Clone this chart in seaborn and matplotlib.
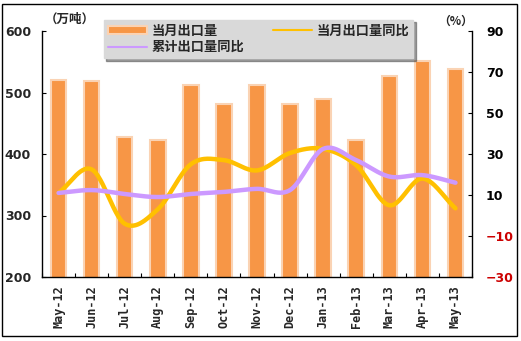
import numpy as np
import pandas as pd
import matplotlib
matplotlib.use("Agg")
import matplotlib.pyplot as plt
from matplotlib.patches import Rectangle, Patch
from matplotlib.lines import Line2D
import seaborn as sns

months = ["May-12", "Jun-12", "Jul-12", "Aug-12", "Sep-12", "Oct-12", "Nov-12",
          "Dec-12", "Jan-13", "Feb-13", "Mar-13", "Apr-13", "May-13"]
monthly_export = [521, 519, 427, 422, 513, 482, 512, 482, 489, 422, 527, 551, 538]
monthly_yoy = [11, 22.5, -4, 3, 25, 27, 22, 30.5, 32.5, 24.5, 5, 18, 3.5]
cumulative_yoy = [11, 12.4, 10.5, 9, 10.5, 11.5, 13, 12.4, 32.5, 27, 19, 19.7, 16]

left_ticks = [200, 300, 400, 500, 600]
right_ticks = [-30, -10, 10, 30, 50, 70, 90]

sns.set_theme(style="white")
plt.rcParams["font.family"] = ["Noto Sans CJK SC", "DejaVu Sans"]

BAR = "#F79646"
BAR_EDGE = "#FAD3B4"
YELLOW = "#FFC000"
PURPLE = "#CC99FF"


def smooth(y, n=30):
    """Catmull-Rom curve through the points, like a smoothed Excel line."""
    y = np.asarray(y, float)
    x = np.arange(len(y), dtype=float)
    px = np.concatenate([[2 * x[0] - x[1]], x, [2 * x[-1] - x[-2]]])
    py = np.concatenate([[2 * y[0] - y[1]], y, [2 * y[-1] - y[-2]]])
    xs, ys = [], []
    for i in range(1, len(px) - 2):
        t = np.linspace(0, 1, n, endpoint=False)
        for arr, out in ((px, xs), (py, ys)):
            p0, p1, p2, p3 = arr[i - 1], arr[i], arr[i + 1], arr[i + 2]
            out.append(0.5 * ((2 * p1) + (-p0 + p2) * t
                              + (2 * p0 - 5 * p1 + 4 * p2 - p3) * t ** 2
                              + (-p0 + 3 * p1 - 3 * p2 + p3) * t ** 3))
    xs.append([x[-1]])
    ys.append([y[-1]])
    return np.concatenate(xs), np.concatenate(ys)


df = pd.DataFrame({"month": months, "export": monthly_export})

fig = plt.figure(figsize=(5.21, 3.41), dpi=100)
ax = fig.add_axes([42 / 521, 64 / 341, 430 / 521, 246 / 341])

sns.barplot(data=df, x="month", y="export", color=BAR, width=0.47,
            edgecolor=BAR_EDGE, linewidth=1.5, saturation=1, ax=ax)
ax.set_ylim(200, 600)
ax.set_xlim(-0.5, len(months) - 0.5)
ax.set_yticks(left_ticks)
ax.set_xlabel("")
ax.set_ylabel("")

ax2 = ax.twinx()
sx, sy = smooth(monthly_yoy)
sns.lineplot(x=sx, y=sy, color=YELLOW, lw=3.2, sort=False, ax=ax2, zorder=3)
cx, cy = smooth(cumulative_yoy)
sns.lineplot(x=cx, y=cy, color=PURPLE, lw=3.2, sort=False, ax=ax2, zorder=4)
ax2.set_ylim(-30, 90)
ax2.set_yticks(right_ticks)
ax2.set_xlim(-0.5, len(months) - 0.5)

for a in (ax, ax2):
    a.grid(False)
    for s in a.spines.values():
        s.set_visible(False)
ax.spines["left"].set_visible(True)
ax.spines["bottom"].set_visible(True)
ax2.spines["right"].set_visible(True)
for s in (ax.spines["left"], ax.spines["bottom"], ax2.spines["right"]):
    s.set_color("black")
    s.set_linewidth(1.0)

# category ticks sit between the bars
ax.set_xticks(np.arange(len(months)))
ax.set_xticklabels(months, rotation=90, fontsize=8.5, fontweight="bold",
                   family="DejaVu Sans Mono")
ax.set_xticks(np.arange(len(months) + 1) - 0.5, minor=True)
ax.tick_params(axis="x", which="major", length=0, pad=6)
ax.tick_params(axis="x", which="minor", direction="in", length=3,
               color="black", width=0.8, bottom=True)
ax.tick_params(axis="y", direction="in", length=3, color="black", width=0.8,
               left=True, labelsize=9, pad=8)
for t in ax.get_yticklabels():
    t.set_fontweight("bold")
    t.set_family("DejaVu Sans")

ax2.tick_params(axis="y", direction="in", length=3, color="black", width=0.8,
                right=True, labelsize=9, pad=10)
for t, v in zip(ax2.get_yticklabels(), right_ticks):
    t.set_fontweight("bold")
    t.set_family("DejaVu Sans")
    t.set_color("#CC0000" if v < 0 else "black")

fig.text(45 / 521, 1 - 19 / 341, "（万吨）", fontsize=9, fontweight="bold",
         va="center", ha="left")
fig.text(456 / 521, 1 - 21 / 341, "（%）", fontsize=8.5, fontweight="bold",
         va="center", ha="center")

handles = [
    Patch(facecolor=BAR, edgecolor=BAR_EDGE, linewidth=1.5),
    Line2D([], [], color=PURPLE, lw=1.5),
    Line2D([], [], color=YELLOW, lw=1.5),
]
labels = ["当月出口量", "累计出口量同比", "当月出口量同比"]
leg = fig.legend(handles, labels, ncol=2, loc="upper left",
                 bbox_to_anchor=(97 / 521, 1 - 13 / 341),
                 frameon=True, fancybox=False, shadow=True,
                 prop={"weight": "bold", "size": 9.5},
                 handlelength=3.0, handleheight=0.6, columnspacing=2.2,
                 labelspacing=0.2, borderpad=0.3, handletextpad=0.3)
leg.get_frame().set_facecolor("#D9D9D9")
leg.get_frame().set_edgecolor("#D9D9D9")

fig.patches.append(Rectangle((2 / 521, 5 / 341), 515 / 521, 332 / 341,
                             transform=fig.transFigure, fill=False,
                             edgecolor="black", linewidth=1.0))

fig.savefig("out.png", dpi=100)
